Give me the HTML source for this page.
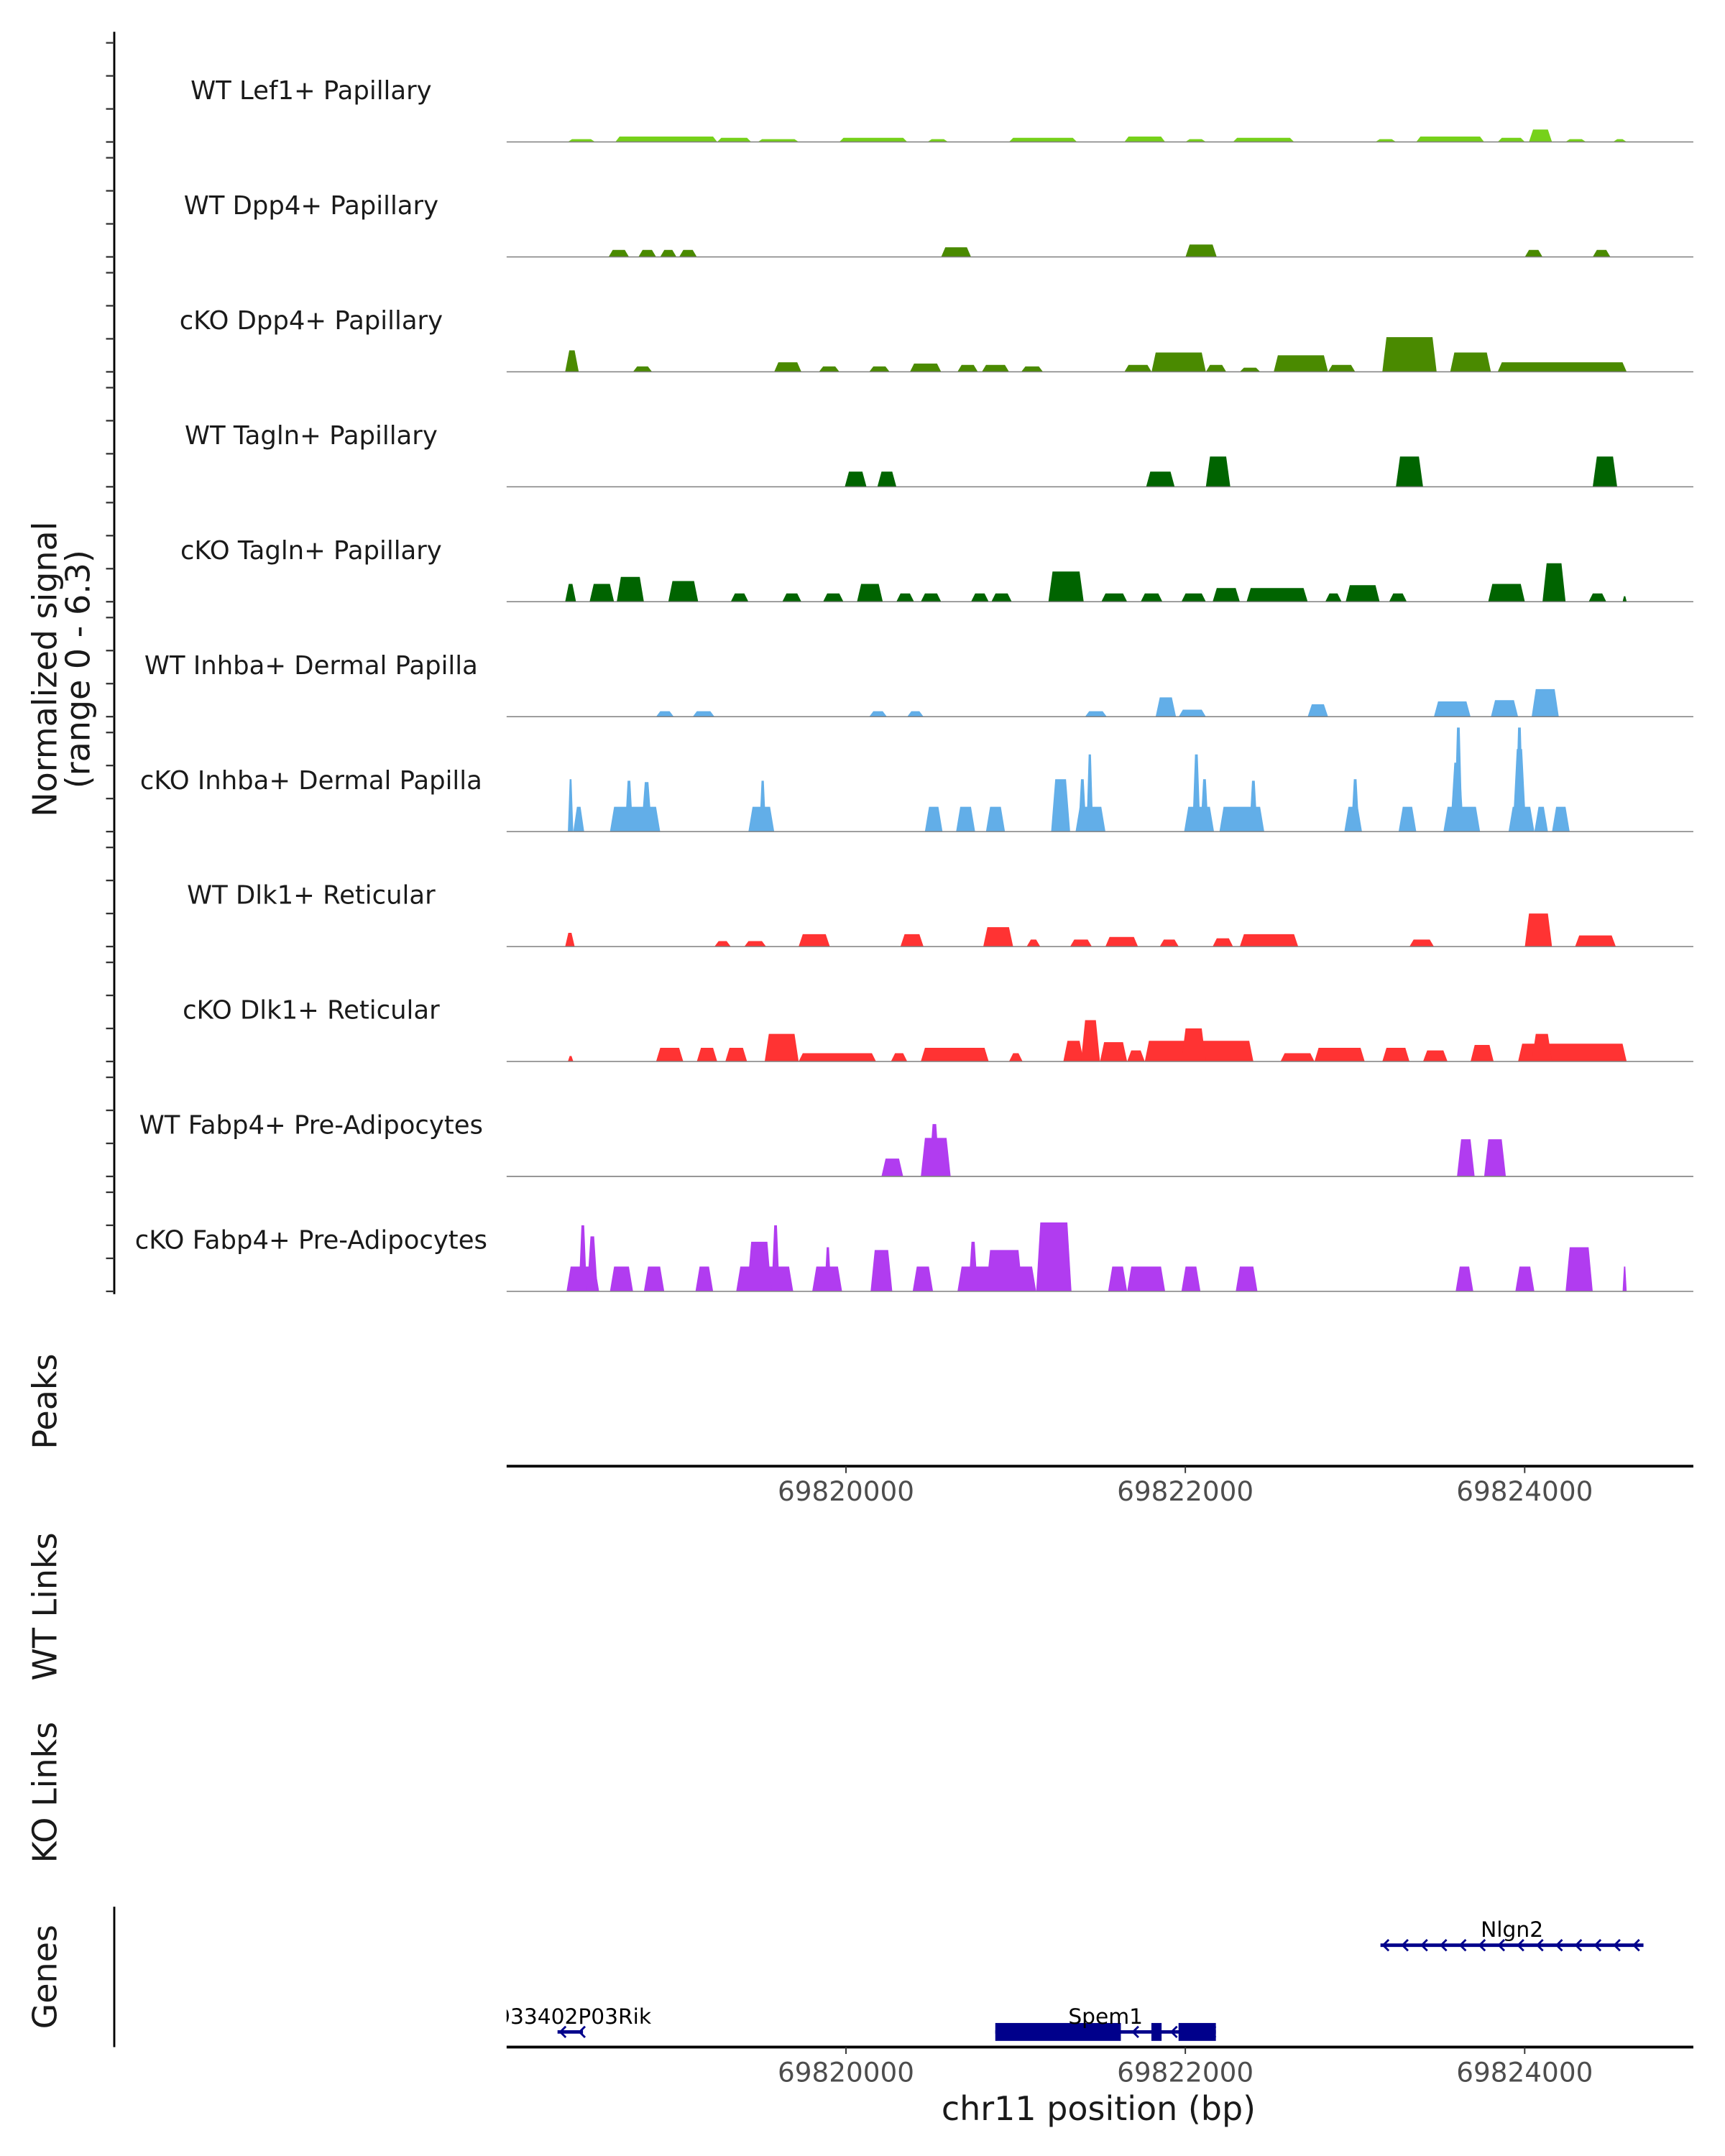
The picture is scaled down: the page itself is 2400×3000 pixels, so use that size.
<!DOCTYPE html>
<html><head><meta charset="utf-8"><style>
html,body{margin:0;padding:0;background:#fff;}
svg{display:block;font-family:"DejaVu Sans","Liberation Sans",sans-serif;}
</style></head><body>
<svg id="chart" width="2400" height="3000" viewBox="0 0 1253 1566" xmlns="http://www.w3.org/2000/svg"></svg>
<script>
// ---- data ----
const regionStart = 69818000;
const trackNames = ["WT Lef1+ Papillary","WT Dpp4+ Papillary","cKO Dpp4+ Papillary","WT Tagln+ Papillary","cKO Tagln+ Papillary","WT Inhba+ Dermal Papilla","cKO Inhba+ Dermal Papilla","WT Dlk1+ Reticular","cKO Dlk1+ Reticular","WT Fabp4+ Pre-Adipocytes","cKO Fabp4+ Pre-Adipocytes"];
const trackColors = ["#76d11a","#4a8a00","#4a8a00","#006400","#006400","#62aee8","#62aee8","#ff3333","#ff3333","#b13cf0","#b13cf0"];
// blocks: [start offset bp, end offset bp, signal]
const lef1WT = [[361,521,.17],[641,1241,.33],[1241,1441,.25],[1481,1721,.17],[1961,2361,.25],[2481,2601,.17],[2961,3361,.25],[3641,3881,.33],[4001,4121,.17],[4281,4641,.25],[5121,5241,.17],[5361,5761,.33],[5841,6001,.25],[6025,6161,.75],[6241,6361,.17],[6521,6601,.17]];
const dpp4WT = [[601,721,.42],[777,881,.42],[905,1001,.42],[1017,1121,.42],[2561,2737,.58],[4001,4185,.75],[6001,6105,.42],[6401,6505,.42]];
const dpp4KO = [[345,425,1.3],[745,857,.33],[1577,1737,.58],[1841,1961,.33],[2137,2257,.33],[2377,2561,.5],[2657,2777,.42],[2801,2961,.42],[3033,3161,.33],[3641,3801,.42],[3801,4121,1.17],[4121,4241,.42],[4321,4441,.25],[4521,4841,1.0],[4841,5001,.42],[5161,5481,2.1],[5561,5801,1.17],[5841,6601,.58]];
const taglnWT = [[1993,2121,.92],[2185,2297,.92],[3769,3937,.92],[4121,4265,1.83],[5241,5401,1.83],[6401,6545,1.83]];
const taglnKO = [[345,409,1.08],[489,633,1.08],[649,809,1.5],[953,1129,1.25],[1321,1425,.5],[1625,1737,.5],[1865,1985,.5],[2065,2217,1.08],[2297,2401,.5],[2441,2561,.5],[2737,2841,.5],[2857,2977,.5],[3193,3401,1.83],[3505,3657,.5],[3737,3865,.5],[3977,4121,.5],[4161,4321,.83],[4361,4721,.83],[4825,4921,.5],[4945,5145,1.0],[5201,5305,.5],[5785,6001,1.08],[6105,6241,2.33],[6377,6481,.5],[6577,6601,.33]];
const inhbaWT = [[881,985,.33],[1097,1225,.33],[2137,2241,.33],[2361,2457,.33],[3409,3537,.33],[3825,3945,1.17],[3961,4121,.42],[4721,4841,.75],[5465,5681,.92],[5801,5961,1.0],[6041,6201,1.67]];
const inhbaKO = [[361,393,3.17],[393,457,1.5],[609,905,1.5],[697,745,3.08],[793,857,3.0],[1425,1577,1.5],[1489,1529,3.08],[2465,2569,1.5],[2649,2761,1.5],[2825,2937,1.5],[3209,3321,3.17],[3353,3529,1.5],[3369,3417,3.17],[3417,3457,4.67],[3993,4169,1.5],[4041,4089,4.67],[4089,4137,3.17],[4201,4465,1.5],[4377,4425,3.08],[4937,5041,1.5],[4977,5025,3.17],[5257,5361,1.5],[5521,5737,1.5],[5561,5641,4.17],[5585,5633,6.3],[5905,6057,1.5],[5929,6009,5.0],[5945,5993,6.3],[6057,6137,1.5],[6161,6265,1.5]];
const dlk1WT = [[345,401,.83],[1225,1321,.33],[1401,1529,.33],[1721,1905,.75],[2321,2457,.75],[2809,2985,1.17],[3065,3145,.42],[3321,3449,.42],[3529,3721,.58],[3849,3961,.42],[4161,4281,.5],[4321,4665,.75],[5321,5465,.42],[6001,6161,2.0],[6297,6537,.67]];
const dlk1KO = [[361,393,.33],[881,1041,.83],[1121,1241,.83],[1289,1417,.83],[1521,1721,1.67],[1721,2177,.5],[2265,2361,.5],[2441,2841,.83],[2961,3041,.5],[3281,3401,1.25],[3385,3497,2.5],[3497,3657,1.17],[3657,3761,.67],[3761,4401,1.25],[3977,4121,2.0],[4561,4761,.5],[4761,5057,.83],[5161,5321,.83],[5401,5545,.67],[5681,5817,1.0],[5961,6601,1.08],[6041,6161,1.67]];
const fabp4WT = [[2209,2337,1.08],[2441,2617,2.33],[2489,2553,3.17],[5601,5705,2.25],[5761,5889,2.25]];
const fabp4KO = [[353,545,1.5],[425,473,4.0],[473,537,3.33],[609,745,1.5],[809,929,1.5],[1113,1217,1.5],[1353,1689,1.5],[1417,1561,3.0],[1561,1609,4.0],[1801,1977,1.5],[1873,1913,2.67],[2145,2273,2.5],[2393,2513,1.5],[2657,3121,1.5],[2721,2777,3.0],[2825,3041,2.5],[3121,3329,4.17],[3545,3657,1.5],[3657,3881,1.5],[3977,4089,1.5],[4297,4425,1.5],[5593,5697,1.5],[5945,6057,1.5],[6241,6401,2.67],[6577,6601,1.5]];
const trackData = [lef1WT,dpp4WT,dpp4KO,taglnWT,taglnKO,inhbaWT,inhbaKO,dlk1WT,dlk1KO,fabp4WT,fabp4KO];
const xTicks = [69820000,69822000,69824000];
const yTicks = [0,2,4,6];
const genes = [
  {name:"Nlgn2", start:69823150, end:69824700, row:0, exons:[]},
  {name:"Spem1", start:69820880, end:69822180, row:1, exons:[[69820880,69821620],[69821800,69821860],[69821960,69822180]]},
  {name:"4933402P03Rik", start:69818300, end:69818450, row:1, exons:[]}
];

// ---- scales ----
const X0 = 614.5, PXPER2K = 246.5;
function x(pos){ return X0 + (pos-69820000)*PXPER2K/2000; }
const TRACK_TOP = 20, TRACK_H = 83.5, PX_PER_UNIT = 12;
function baseY(i){ return TRACK_TOP + TRACK_H*(i+1) - 0.5; }
function y(i,v){ return baseY(i) - v*PX_PER_UNIT; }

const svg = document.getElementById('chart');
const NS = "http://www.w3.org/2000/svg";
function mk(tag, attrs, text){
  const e = document.createElementNS(NS, tag);
  for (const k in attrs) e.setAttribute(k, attrs[k]);
  if (text !== undefined) e.textContent = text;
  svg.appendChild(e); return e;
}

const ax = mk('line',{x1:83,y1:TRACK_TOP+3,x2:83,y2:baseY(10)+2,stroke:'#000','stroke-width':1.5});



trackData.forEach((blocks,i)=>{
  const b = baseY(i);
  yTicks.forEach(t=>{
    const tk = mk('line',{x1:77,y1:y(i,t),x2:83,y2:y(i,t),stroke:'#333','stroke-width':1.2});
    
    
  });
  const lbl = mk('text',{x:226,y:b-31,'text-anchor':'middle','font-size':18.5,fill:'#1a1a1a'},trackNames[i]);
  
  
  blocks.forEach(bl=>{
    const xs = x(regionStart+bl[0]), xe = x(regionStart+bl[1]);
    const w = xe-xs, r = Math.min(3, w/3);
    const yt = y(i,bl[2]);
    const p = mk('polygon',{points:`${xs},${b} ${xs+r},${yt} ${xe-r},${yt} ${xe},${b}`,fill:trackColors[i]});
    
    
  });
  const bl = mk('line',{x1:368,y1:b,x2:1230,y2:b,stroke:'#7f7f7f','stroke-width':0.8});
  
  
});

function rot(txt, cx, cy, size, name){
  const t = mk('text',{x:cx,y:cy,'text-anchor':'middle','font-size':size,fill:'#1a1a1a',transform:`rotate(-90 ${cx} ${cy})`},txt);
  
  
  return t;
}
rot('Normalized signal',41,486,24,'y-axis-title');
rot('(range 0 - 6.3)',65,486,24,'y-axis-subtitle');
rot('Peaks',41,1018,24,'peaks-title');
rot('WT Links',41,1167,24,'wt-links-title');
rot('KO Links',41,1302,24,'ko-links-title');
rot('Genes',41,1436,24,'genes-title');

function xaxis(yy, nm){
  const l = mk('line',{x1:368,y1:yy,x2:1230,y2:yy,stroke:'#000','stroke-width':2});
  
  
  xTicks.forEach(t=>{
    const tk = mk('line',{x1:x(t),y1:yy,x2:x(t),y2:yy+5,stroke:'#333','stroke-width':1});
    
    
    const tl = mk('text',{x:x(t),y:yy+25,'text-anchor':'middle','font-size':19.5,fill:'#4d4d4d'},String(t));
    
    
  });
}
xaxis(1065,'peaks-x-axis');
xaxis(1487,'genes-x-axis');
const xt = mk('text',{x:798,y:1540,'text-anchor':'middle','font-size':24,fill:'#1a1a1a'},'chr11 position (bp)');


const ga = mk('line',{x1:83,y1:1385,x2:83,y2:1487,stroke:'#000','stroke-width':1.5});



const clip = mk('clipPath',{id:'gclip'});
const cr = document.createElementNS(NS,'rect');
cr.setAttribute('x',368);cr.setAttribute('y',1380);cr.setAttribute('width',870);cr.setAttribute('height',110);
clip.appendChild(cr);
const gg = document.createElementNS(NS,'g'); gg.setAttribute('clip-path','url(#gclip)'); svg.appendChild(gg);
function gmk(tag, attrs, text){ const e = mk(tag, attrs, text); gg.appendChild(e); return e; }
genes.forEach(g=>{
  const gy = g.row===0 ? 1413 : 1476;
  const xs = x(g.start), xe = x(g.end);
  const ln = gmk('line',{x1:xs,y1:gy,x2:xe,y2:gy,stroke:'#00008b','stroke-width':2.5});
  
  
  for (let ax2 = xs+2; ax2 < xe-1; ax2 += 14){
    const a = gmk('polyline',{points:`${ax2+4},${gy-4} ${ax2},${gy} ${ax2+4},${gy+4}`,fill:'none',stroke:'#00008b','stroke-width':1.5});
    
    
  }
  g.exons.forEach(e=>{
    const r = gmk('rect',{x:x(e[0]),y:gy-6.5,width:x(e[1])-x(e[0]),height:13,fill:'#00008b'});
    
    
  });
  const lx = g.name==='4933402P03Rik' ? 412 : (xs+xe)/2;
  const t = gmk('text',{x:lx,y:gy-6,'text-anchor':'middle','font-size':15.5,fill:'#000'},g.name);
  
  
});
</script>
</body></html>
